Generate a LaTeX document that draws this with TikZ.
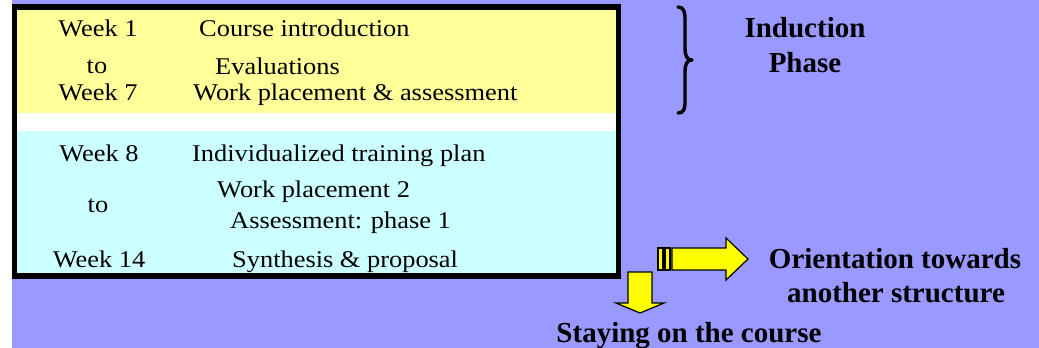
\documentclass[tikz,border=0pt]{standalone}
\usepackage{fontspec}
\setmainfont{Liberation Serif}
\newfontfamily\tabfont{Liberation Serif}[FakeStretch=1.1]
\definecolor{bgpurple}{HTML}{9999FF}
\definecolor{rowyellow}{HTML}{FFFF99}
\definecolor{rowcyan}{HTML}{CCFFFF}
\definecolor{arrowyellow}{HTML}{FFFF00}
\begin{document}
\begin{tikzpicture}[x=1pt,y=-1pt,
  tab/.style={inner sep=0pt, font=\tabfont\fontsize{24}{28}\selectfont},
  lbl/.style={inner sep=0pt, font=\fontsize{29}{34}\selectfont\bfseries},
  blockarrow/.style={fill=arrowyellow, draw=black, line width=1.2pt, line join=miter}]
\useasboundingbox (0,0) rectangle (1039,348);
% background
\fill[white] (0,0) rectangle (1039,348);
\fill[bgpurple] (12,0) rectangle (1039,348);
% frame
\fill[black] (12,4) rectangle (621,279);
\fill[rowyellow] (17,10) rectangle (616,113);
\fill[white] (17,113) rectangle (616,131);
\fill[rowcyan] (17,131) rectangle (616,273);
% table text
\node[tab, anchor=base] (w1) at (98,36) {Week 1};
\node[tab, anchor=base west] (c1) at (199,36) {Course introduction};
\node[tab, anchor=base] (t1) at (97,73) {to};
\node[tab, anchor=base west] (c2) at (215,74) {Evaluations};
\node[tab, anchor=base] (w7) at (98,100) {Week 7};
\node[tab, anchor=base west] (c3) at (193,100) {Work placement \& assessment};
\node[tab, anchor=base] (w8) at (99,161) {Week 8};
\node[tab, anchor=base west] (c4) at (192,161) {Individualized training plan};
\node[tab, anchor=base] (t2) at (98,212) {to};
\node[tab, anchor=base west] (c5) at (217,197) {Work placement 2};
\node[tab, anchor=base west] (c6) at (230,228) {Assessment: phase 1};
\node[tab, anchor=base] (w14) at (99,267) {Week 14};
\node[tab, anchor=base west] (c7) at (232,267) {Synthesis \& proposal};
% brace
\draw[line width=3.4pt, line cap=round, line join=round]
  (678,7) .. controls (684,7) and (685,12) .. (685,20) -- (685,48)
  .. controls (685,56) and (687,60) .. (692,60)
  .. controls (687,60) and (685,64) .. (685,72) -- (685,101)
  .. controls (685,109) and (684,113) .. (678,113);
% labels
\node[lbl, anchor=base] (ind) at (805,37) {Induction};
\node[lbl, anchor=base] (pha) at (805,72) {Phase};
\node[lbl, anchor=base] (ori1) at (895,268) {Orientation towards};
\node[lbl, anchor=base] (ori2) at (896,302) {another structure};
\node[lbl, anchor=base] (stay) at (689,342) {Staying on the course};
% striped right arrow
\draw[blockarrow] (658,248) rectangle (663,270);
\draw[blockarrow] (665,248) rectangle (670,270);
\draw[blockarrow] (672,248) -- (726,248) -- (726,238) -- (748,259) -- (726,280) -- (726,270) -- (672,270) -- cycle;
% down arrow
\draw[blockarrow] (628,272) -- (652,272) -- (652,303) -- (664,303) -- (640,313) -- (616,303) -- (628,303) -- cycle;
\end{tikzpicture}
\end{document}
